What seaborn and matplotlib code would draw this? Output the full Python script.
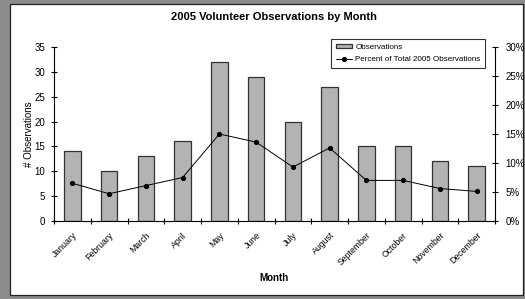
import matplotlib
matplotlib.use("Agg")
import matplotlib.pyplot as plt
import seaborn as sns
import pandas as pd
from matplotlib.patches import Rectangle
from matplotlib.ticker import FixedLocator, PercentFormatter

# -------- DATA --------
months = ["January", "February", "March", "April", "May", "June", "July",
          "August", "September", "October", "November", "December"]
observations = [14, 10, 13, 16, 32, 29, 20, 27, 15, 15, 12, 11]
percent_total = [6.5, 4.7, 6.1, 7.5, 15.0, 13.6, 9.3, 12.6, 7.0, 7.0, 5.6, 5.1]
# ----------------------

df = pd.DataFrame({"Month": months, "Observations": observations,
                   "Percent": percent_total})

sns.set_theme(style="white")
plt.rcParams["font.family"] = ["Liberation Sans", "DejaVu Sans"]
plt.rcParams["text.color"] = "black"
plt.rcParams["axes.labelcolor"] = "black"

fig = plt.figure(figsize=(5.25, 2.99), dpi=100)
fig.patch.set_facecolor("#8c8c8c")
# inner white chart area with dark frame
fig.patches.append(Rectangle((10 / 525, 4 / 299), 513 / 525, 291 / 299,
                             transform=fig.transFigure, facecolor="white",
                             edgecolor="#222222", linewidth=0.9, zorder=-10))

ax = fig.add_axes([54 / 525, 1 - 221 / 299, 441 / 525, 174 / 299])
ax.patch.set_alpha(0)

sns.barplot(data=df, x="Month", y="Observations", color="#b3b3b3",
            edgecolor="#333333", linewidth=0.9, width=0.45, saturation=1,
            ax=ax, label="Observations")
ax.set_xlim(-0.5, 11.5)
ax.set_ylim(0, 35)
ax.set_yticks(range(0, 36, 5))

for s in ["top", "right"]:
    ax.spines[s].set_visible(False)
for s in ["left", "bottom"]:
    ax.spines[s].set_color("black")
    ax.spines[s].set_linewidth(0.8)

ax.tick_params(axis="y", direction="inout", length=5, width=0.8,
               labelsize=7, colors="black", left=True, pad=4)
ax.tick_params(axis="x", which="major", length=0, labelsize=6.3, pad=7,
               labelcolor="black")
ax.xaxis.set_minor_locator(FixedLocator([i + 0.5 for i in range(-1, 12)]))
ax.tick_params(axis="x", which="minor", direction="inout", length=5,
               width=0.8, bottom=True, color="black")
for lbl in ax.get_xticklabels():
    lbl.set_rotation(45)
    lbl.set_ha("right")
    lbl.set_rotation_mode("anchor")

ax.set_xlabel("Month", fontsize=7, fontweight="bold", labelpad=4)
ax.set_ylabel("# Observations", fontsize=7, labelpad=0)

ax2 = ax.twinx()
ax2.patch.set_alpha(0)
sns.lineplot(data=df, x="Month", y="Percent", color="black", linewidth=0.7,
             marker="o", markersize=3, markeredgecolor="black", ax=ax2,
             label="Percent of Total 2005 Observations", legend=False)
ax2.set_ylim(0, 30)
ax2.set_yticks(range(0, 31, 5))
ax2.yaxis.set_major_formatter(PercentFormatter(decimals=0))
ax2.set_ylabel("")
for s in ["top", "left", "bottom"]:
    ax2.spines[s].set_visible(False)
ax2.spines["right"].set_color("black")
ax2.spines["right"].set_linewidth(0.8)
ax2.tick_params(axis="y", direction="inout", length=5, width=0.8,
                labelsize=7, colors="black", right=True, pad=5)

h1, l1 = ax.get_legend_handles_labels()
h2, l2 = ax2.get_legend_handles_labels()
if ax.get_legend():
    ax.get_legend().remove()
leg = ax2.legend(h1 + h2, l1 + l2, loc="upper right",
                 bbox_to_anchor=(0.9875, 1.07), fontsize=5.8, frameon=True,
                 fancybox=False, edgecolor="black", handlelength=2.0,
                 handleheight=0.4, borderpad=0.6, labelspacing=0.7,
                 handletextpad=0.4)
leg.get_frame().set_linewidth(0.8)

fig.text(274 / 525, 1 - 17 / 299, "2005 Volunteer Observations by Month",
         ha="center", va="center", fontsize=8, fontweight="bold",
         color="black")

fig.savefig("out.png", dpi=100, facecolor=fig.get_facecolor())
